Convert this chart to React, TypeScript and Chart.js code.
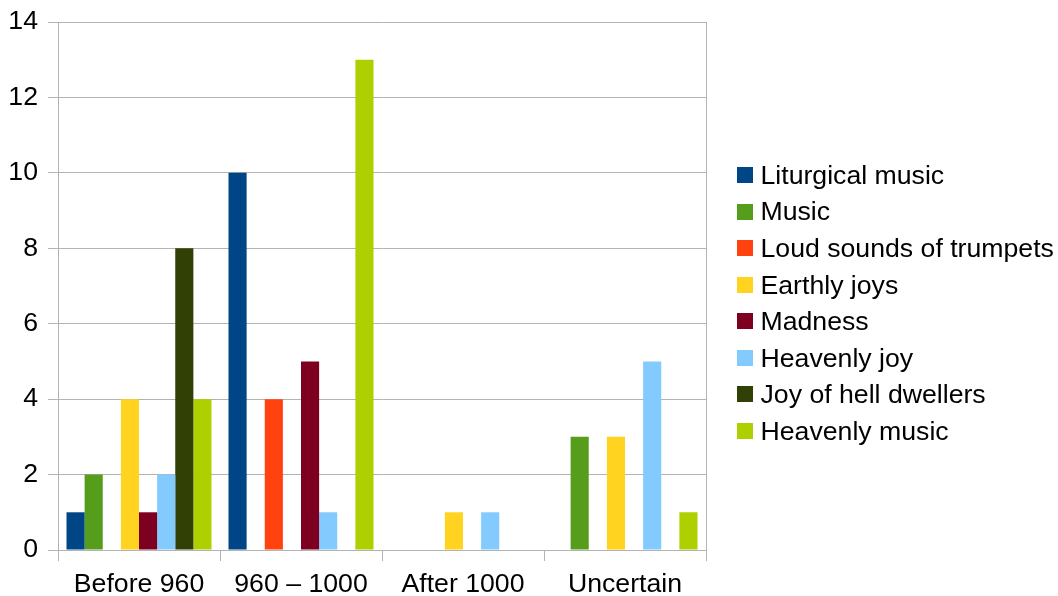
import React, { useEffect, useRef } from "react";
import { Chart, registerables } from "chart.js";

Chart.register(...registerables);

const categories = ["Before 960", "960 – 1000", "After 1000", "Uncertain"];

const seriesNames = [
  "Liturgical music",
  "Music",
  "Loud sounds of trumpets",
  "Earthly joys",
  "Madness",
  "Heavenly joy",
  "Joy of hell dwellers",
  "Heavenly music",
];

const liturgicalMusic = [1, 10, 0, 0];
const music = [2, 0, 0, 3];
const loudSoundsOfTrumpets = [0, 4, 0, 0];
const earthlyJoys = [4, 0, 1, 3];
const madness = [1, 5, 0, 0];
const heavenlyJoy = [2, 1, 1, 5];
const joyOfHellDwellers = [8, 0, 0, 0];
const heavenlyMusic = [4, 13, 0, 1];

const seriesValues = [
  liturgicalMusic,
  music,
  loudSoundsOfTrumpets,
  earthlyJoys,
  madness,
  heavenlyJoy,
  joyOfHellDwellers,
  heavenlyMusic,
];

const seriesColors = [
  "#004586",
  "#579d1c",
  "#ff420e",
  "#ffd320",
  "#7e0021",
  "#83caff",
  "#314004",
  "#aecf00",
];

const yMin = 0;
const yMax = 14;
const yStep = 2;

const FONT = '"Liberation Sans", Arial, sans-serif';
const FONT_SIZE = 26.67;
const GRID = "#b3b3b3";

const LEGEND_BOX_X = 737;
const LEGEND_TEXT_X = 760.5;
const LEGEND_FIRST_Y = 175;
const LEGEND_STEP = 36.57;
const LEGEND_BOX = 16;
const LEGEND_TEXT_SHIFT = 1.5;

const sideLegend = {
  id: "sideLegend",
  afterDraw(chart: any) {
    const ctx = chart.ctx;
    ctx.save();
    ctx.font = `${FONT_SIZE}px ${FONT}`;
    ctx.textBaseline = "middle";
    ctx.textAlign = "left";
    chart.data.datasets.forEach((ds: any, i: number) => {
      const cy = LEGEND_FIRST_Y + i * LEGEND_STEP;
      ctx.fillStyle = ds.backgroundColor;
      ctx.fillRect(LEGEND_BOX_X, Math.round(cy - LEGEND_BOX / 2), LEGEND_BOX, LEGEND_BOX);
      ctx.fillStyle = "#000000";
      ctx.fillText(ds.label, LEGEND_TEXT_X, cy + LEGEND_TEXT_SHIFT);
    });
    ctx.restore();
  },
};

export default function App() {
  const canvasRef = useRef<HTMLCanvasElement | null>(null);

  useEffect(() => {
    if (!canvasRef.current) return;
    const chart = new Chart(canvasRef.current, {
      type: "bar",
      data: {
        labels: categories,
        datasets: seriesNames.map((name, i) => ({
          label: name,
          data: seriesValues[i],
          backgroundColor: seriesColors[i],
          borderWidth: 0,
          categoryPercentage: 0.895,
          barPercentage: 1,
        })),
      },
      options: {
        responsive: false,
        animation: false,
        devicePixelRatio: 1,
        layout: { padding: { left: 0, top: 22, right: 352, bottom: 0 } },
        plugins: {
          legend: { display: false },
          tooltip: { enabled: false },
        },
        scales: {
          x: {
            offset: true,
            ticks: {
              color: "#000000",
              font: { family: FONT, size: FONT_SIZE },
              padding: 8,
              maxRotation: 0,
              autoSkip: false,
            },
            grid: {
              offset: true,
              drawOnChartArea: false,
              drawTicks: true,
              tickLength: 11,
              color: GRID,
            },
            border: { display: true, color: GRID },
            afterFit: (s: any) => {
              s.height = 46;
              s.paddingLeft = 0;
              s.paddingRight = 0;
            },
          },
          y: {
            min: yMin,
            max: yMax,
            ticks: {
              stepSize: yStep,
              color: "#000000",
              font: { family: FONT, size: FONT_SIZE },
              padding: 10,
            },
            grid: { color: GRID, tickLength: 10 },
            border: { display: true, color: GRID },
            afterFit: (s: any) => {
              s.width = 58;
              s.paddingTop = 0;
              s.paddingBottom = 0;
            },
          },
          y2: {
            position: "right",
            min: yMin,
            max: yMax,
            ticks: { display: false },
            grid: { drawOnChartArea: false, drawTicks: false },
            border: { display: true, color: GRID },
            afterFit: (s: any) => {
              s.width = 0;
              s.paddingTop = 0;
              s.paddingBottom = 0;
            },
          },
        },
      },
      plugins: [sideLegend],
    });
    return () => chart.destroy();
  }, []);

  return (
    <div style={{ position: "fixed", left: 0, top: 0, width: 1058, height: 596, background: "#ffffff" }}>
      <canvas ref={canvasRef} width={1058} height={596} style={{ display: "block" }} />
    </div>
  );
}
